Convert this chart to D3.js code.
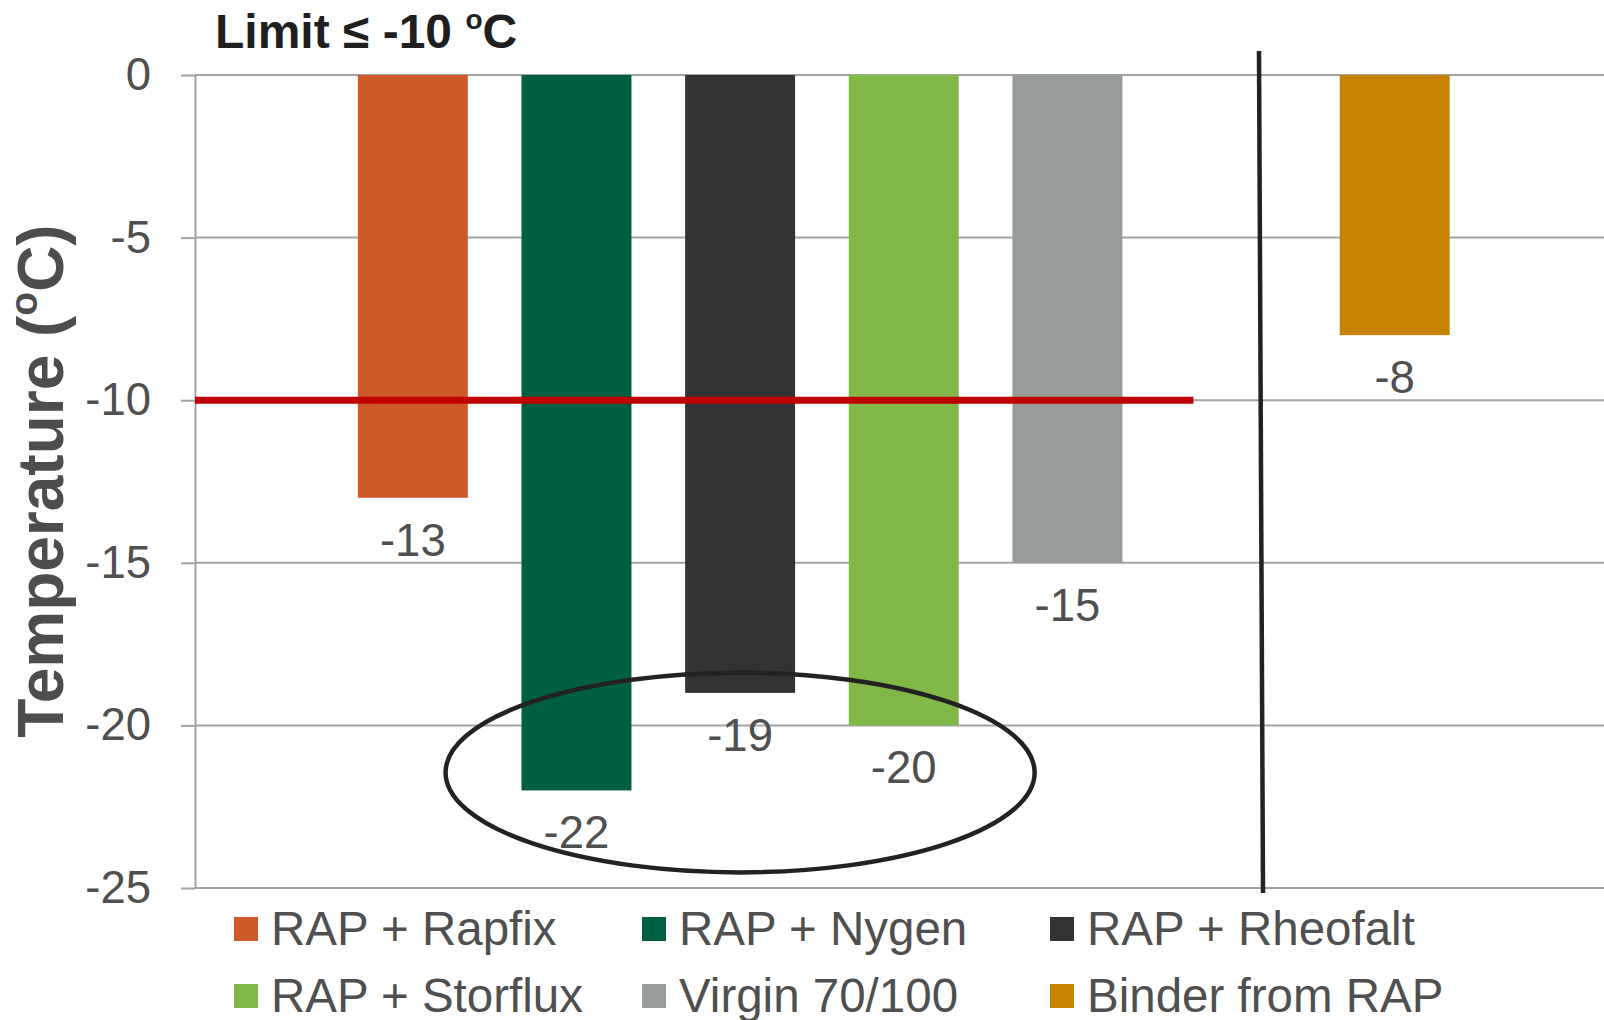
<!DOCTYPE html>
<html>
<head>
<meta charset="utf-8">
<script src="https://cdn.jsdelivr.net/npm/d3@7"></script>
<style>
  body { margin: 0; background: #fff; }
  svg { display: block; }
  text { font-family: "Liberation Sans", Arial, Helvetica, sans-serif; }
</style>
</head>
<body>
<svg id="chart" width="1604" height="1020"></svg>
<script>
// ---- data ----
const categories = ["RAP + Rapfix", "RAP + Nygen", "RAP + Rheofalt", "RAP + Storflux", "Virgin 70/100", "Binder from RAP"];
const values = [-13, -22, -19, -20, -15, -8];
const barColors = ["#cf5a29", "#005e42", "#333333", "#82b847", "#979c99", "#c78300"];
const yTicks = [0, -5, -10, -15, -20, -25];
const limitValue = -10;
const highlighted = ["RAP + Nygen", "RAP + Rheofalt", "RAP + Storflux"];

// ---- layout ----
const W = 1604, H = 1020;
const plotLeft = 195, plotRight = 1604, plotTop = 75, plotBottom = 888;
const labelFont = 45.5;
const textGrey = "#4f4f4f";
const gridGrey = "#a3a3a3";

const svg = d3.select("#chart");

// the separate binder sample sits after an empty slot
const gapKey = "__gap__";
const slots = [...categories.slice(0, 5), gapKey, categories[5]];

const x = d3.scaleBand()
  .domain(slots)
  .range([331, 1476.5])
  .paddingInner(0.328)
  .paddingOuter(0.164);

const y = d3.scaleLinear().domain([-25, 0]).range([plotBottom, plotTop]);

// horizontal gridlines
svg.append("g").selectAll("line")
  .data(yTicks)
  .join("line")
  .attr("x1", plotLeft).attr("x2", plotRight)
  .attr("y1", d => y(d)).attr("y2", d => y(d))
  .attr("stroke", gridGrey).attr("stroke-width", 2);

// y axis
const yAxis = d3.axisLeft(y).tickValues(yTicks).tickSize(14).tickSizeOuter(0).tickPadding(30)
  .tickFormat(d3.format("d"));
const gy = svg.append("g").attr("transform", `translate(${plotLeft},0)`).call(yAxis);
gy.select(".domain").attr("stroke", gridGrey).attr("stroke-width", 2);
gy.selectAll(".tick line").attr("stroke", gridGrey).attr("stroke-width", 2);
gy.selectAll(".tick text")
  .attr("font-size", labelFont)
  .attr("font-family", "'Liberation Sans', Arial, sans-serif")
  .attr("fill", textGrey)
  .text(d => d3.format("d")(d).replace("−", "-"));

// bars
const rows = categories.map((c, i) => ({ name: c, value: values[i], color: barColors[i] }));
svg.append("g").selectAll("rect")
  .data(rows)
  .join("rect")
  .attr("x", d => x(d.name))
  .attr("y", y(0))
  .attr("width", x.bandwidth())
  .attr("height", d => y(d.value) - y(0))
  .attr("fill", d => d.color);

// value labels under the bars
svg.append("g").selectAll("text")
  .data(rows)
  .join("text")
  .attr("x", d => x(d.name) + x.bandwidth() / 2)
  .attr("y", d => y(d.value) + 58)
  .attr("text-anchor", "middle")
  .attr("font-size", labelFont)
  .attr("fill", textGrey)
  .text(d => String(d.value));

// limit line at -10
const limitEnd = x(categories[4]) + x.bandwidth() + 71;
svg.append("line")
  .attr("x1", plotLeft).attr("x2", limitEnd)
  .attr("y1", y(limitValue)).attr("y2", y(limitValue))
  .attr("stroke", "#c00000").attr("stroke-width", 7);

// divider separating the binder from RAP
svg.append("line")
  .attr("x1", 1259).attr("y1", 51)
  .attr("x2", 1263).attr("y2", 893)
  .attr("stroke", "#222").attr("stroke-width", 4.5);

// ellipse around the best performers
const mid = x(highlighted[1]) + x.bandwidth() / 2;
svg.append("ellipse")
  .attr("cx", mid)
  .attr("cy", y(-21.45))
  .attr("rx", x.step() * 1.8)
  .attr("ry", y(-3.07) - y(0))
  .attr("fill", "none")
  .attr("stroke", "#222")
  .attr("stroke-width", 4.5);

// title
const title = svg.append("text")
  .attr("x", 215).attr("y", 48)
  .attr("font-size", 48).attr("font-weight", "bold").attr("fill", "#1f1f1f");
title.append("tspan").text("Limit \u2264 -10 ");
title.append("tspan").attr("font-size", 28).attr("dy", -19).text("o");
title.append("tspan").attr("dy", 19).text("C");

// y axis title
const yt = svg.append("text")
  .attr("transform", `translate(63,${481}) rotate(-90)`)
  .attr("text-anchor", "middle")
  .attr("font-size", 64).attr("font-weight", "bold").attr("fill", "#4d4d4d");
yt.append("tspan").text("Temperature (");
yt.append("tspan").attr("font-size", 39).attr("dy", -26).text("o");
yt.append("tspan").attr("dy", 26).text("C)");

// legend: 3 columns, 2 rows
const legend = svg.append("g").selectAll("g")
  .data(rows)
  .join("g")
  .attr("transform", (d, i) => `translate(${234 + (i % 3) * 408},${917 + Math.floor(i / 3) * 67})`);
legend.append("rect").attr("width", 24).attr("height", 24).attr("fill", d => d.color);
legend.append("text")
  .attr("x", 37).attr("y", 28)
  .attr("font-size", 47.5)
  .attr("fill", textGrey)
  .text(d => d.name);
</script>
</body>
</html>
